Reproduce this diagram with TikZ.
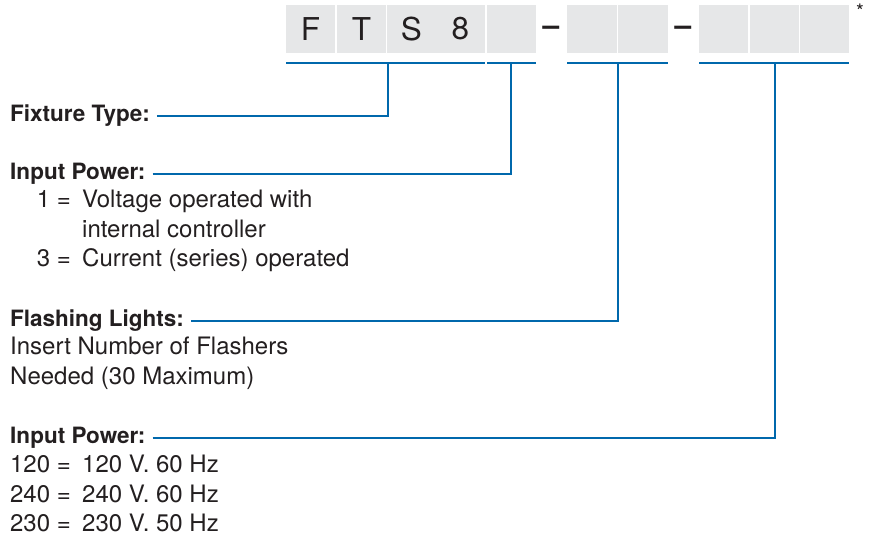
\documentclass[tikz,border=0pt]{standalone}
\usepackage{fontspec}
\setmainfont{TeX Gyre Heros}
\definecolor{lineblue}{HTML}{0068AC}
\definecolor{boxgray}{HTML}{E6E7E8}
\definecolor{ink}{HTML}{231F20}
\begin{document}
\begin{tikzpicture}[x=1pt,y=-1pt,
 cell/.style={fill=boxgray, minimum width=49pt, minimum height=48pt, inner sep=0, font=\fontsize{31.5}{36}\selectfont, text=ink},
 sym/.style={inner sep=0, text=ink},
 bar/.style={draw=lineblue, line width=2.8pt},
 conn/.style={draw=lineblue, line width=2pt},
 head/.style={anchor=base west, inner sep=0, font=\fontsize{22.5}{28}\selectfont\bfseries, text=ink},
 body/.style={anchor=base west, inner sep=0, font=\fontsize{24}{28}\selectfont, text=ink},
 code/.style={anchor=base east, inner sep=0, font=\fontsize{24}{28}\selectfont, text=ink}]
\useasboundingbox (0,0) rectangle (871,537);
% code cells
\node[cell] (b1) at (310.5,29) {F};
\node[cell] (b2) at (361.5,29) {T};
\node[cell] (b3) at (411.5,29) {S};
\node[cell] (b4) at (460.5,29) {8};
\node[cell] (b5) at (511.5,29) {};
\node[cell, minimum width=50pt] (b6) at (592,29) {};
\node[cell, minimum width=50pt] (b7) at (643,29) {};
\node[cell] (b8) at (723.5,29) {};
\node[cell] (b9) at (774,29) {};
\node[cell] (b10) at (824.5,29) {};
\node[sym, font=\fontsize{30}{36}\selectfont\bfseries] (d1) at (551,31) {–};
\node[sym, font=\fontsize{30}{36}\selectfont\bfseries] (d2) at (683,31) {–};
\node[sym, font=\fontsize{20}{24}\selectfont] (ast) at (860,11) {*};
% bracket bars
\coordinate (s1a) at (286,63); \coordinate (s1b) at (485,63); \coordinate (v1) at (388,63);
\coordinate (s2a) at (487,63); \coordinate (s2b) at (536,63); \coordinate (v2) at (511,63);
\coordinate (s3a) at (567,63); \coordinate (s3b) at (668,63); \coordinate (v3) at (618,63);
\coordinate (s4a) at (699,63); \coordinate (s4b) at (849,63); \coordinate (v4) at (775,63);
\draw[bar] (s1a) -- (s1b);
\draw[bar] (s2a) -- (s2b);
\draw[bar] (s3a) -- (s3b);
\draw[bar] (s4a) -- (s4b);
% labels
\node[head] (ft) at (10,122) {Fixture Type:};
\node[head] (ip) at (10,180) {Input Power:};
\node[code] (ip1c) at (71,208) {1 =};
\node[body] (ip1t) at (82,208) {Voltage operated with};
\node[body] (ip1u) at (82,238) {internal controller};
\node[code] (ip3c) at (71,267) {3 =};
\node[body] (ip3t) at (82,267) {Current (series) operated};
\node[head] (fl) at (10,327) {Flashing Lights:};
\node[body] (fl1) at (10,355) {Insert Number of Flashers};
\node[body] (fl2) at (10,385) {Needed (30 Maximum)};
\node[head] (ipw) at (10,444) {Input Power:};
\node[code] (c120) at (71,473) {120 =};
\node[body] (t120) at (82,473) {120 V. 60 Hz};
\node[code] (c240) at (71,503) {240 =};
\node[body] (t240) at (82,503) {240 V. 60 Hz};
\node[code] (c230) at (71,531) {230 =};
\node[body] (t230) at (82,531) {230 V. 50 Hz};
% connectors
\draw[conn] ([xshift=7pt]ft.east) -| (v1);
\draw[conn] ([xshift=7pt]ip.east) -| (v2);
\draw[conn] ([xshift=7pt]fl.east) -| (v3);
\draw[conn] ([xshift=7pt]ipw.east) -| (v4);
\end{tikzpicture}
\end{document}
